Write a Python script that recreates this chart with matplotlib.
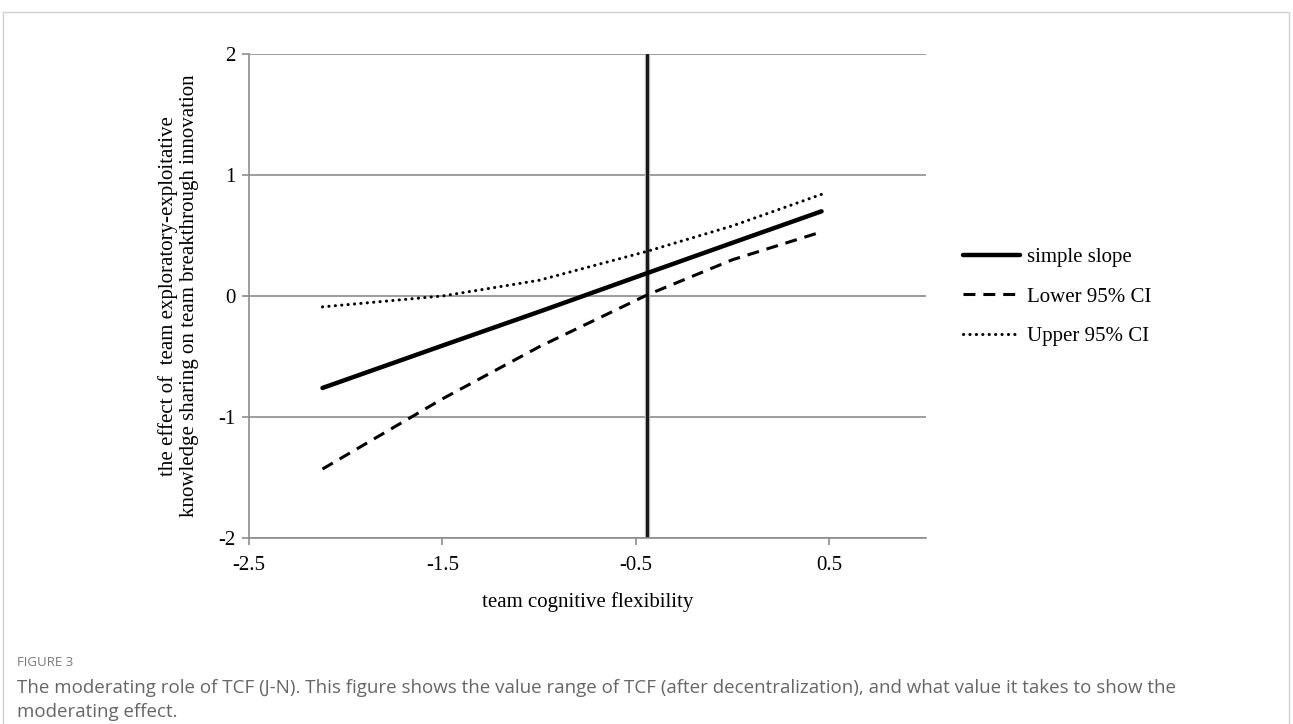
import matplotlib
matplotlib.use("Agg")
import matplotlib.pyplot as plt
from matplotlib.patches import Rectangle

# ---- data ----
x_vals = [-2.12, -1.5, -1.0, -0.44, 0.0, 0.46]
simple_slope = [-0.76, -0.41, -0.13, 0.19, 0.44, 0.70]
lower_ci = [-1.43, -0.85, -0.42, 0.01, 0.30, 0.53]
upper_ci = [-0.09, 0.00, 0.13, 0.37, 0.58, 0.84]
jn_point = -0.44
x_ticks = [-2.5, -1.5, -0.5, 0.5]
x_tick_labels = ["-2.5", "-1.5", "-0.5", "0.5"]
y_ticks = [-2, -1, 0, 1, 2]
y_tick_labels = ["-2", "-1", "0", "1", "2"]
series_labels = ["simple slope", "Lower 95% CI", "Upper 95% CI"]

serif = ["Liberation Serif", "DejaVu Serif"]
sans = ["Open Sans", "DejaVu Sans"]
W, H = 1293, 724
fig = plt.figure(figsize=(W / 100, H / 100), dpi=100)

# outer frame
fig.patches.append(Rectangle((3 / W, -0.01), (1289 - 3) / W, 1 - 12 / H + 0.01,
                             transform=fig.transFigure, fill=False,
                             edgecolor="#d0d0d0", linewidth=1.0))

ax = fig.add_axes([249 / W, 1 - 538 / H, (926 - 249) / W, (538 - 54) / H])
ax.set_xlim(-2.5, 1.0)
ax.set_ylim(-2, 2)

for y in y_ticks:
    ax.axhline(y, color="#8c8c8c", linewidth=1.2, zorder=1)

ax.plot(x_vals, simple_slope, color="black", linewidth=3.2,
        solid_capstyle="round", label=series_labels[0], zorder=3)
ax.plot(x_vals, lower_ci, color="black", linewidth=2.2, dashes=(3.9, 2.6),
        dash_capstyle="butt", label=series_labels[1], zorder=3)
ax.plot(x_vals, upper_ci, color="black", linewidth=2.2, dashes=(0.05, 2.05),
        dash_capstyle="round", label=series_labels[2], zorder=3)

ax.axvline(jn_point, color="#b5b5b5", linewidth=3.8, zorder=2)
ax.axvline(jn_point, color="#1a1a1a", linewidth=2.2, zorder=2)

ax.set_xticks(x_ticks)
ax.set_xticklabels(x_tick_labels, family=serif, fontsize=15)
ax.set_yticks(y_ticks)
ax.set_yticklabels(y_tick_labels, family=serif, fontsize=15)
ax.tick_params(axis="both", direction="out", length=5, width=1.2, color="#8c8c8c")
ax.tick_params(axis="x", pad=8)
ax.tick_params(axis="y", pad=4.5)
for s in ["top", "right"]:
    ax.spines[s].set_visible(False)
for s in ["left", "bottom"]:
    ax.spines[s].set_color("#8c8c8c")
    ax.spines[s].set_linewidth(1.2)

ax.set_xlabel("team cognitive flexibility", family=serif, fontsize=15, labelpad=12)
ax.set_ylabel("the effect of  team exploratory-exploitative\nknowledge sharing on team breakthrough innovation",
              family=serif, fontsize=15, labelpad=14, linespacing=1.15)

leg = fig.legend(loc="center left", bbox_to_anchor=(944 / W, 1 - 297 / H),
                 frameon=False, prop={"family": serif, "size": 15},
                 handlelength=2.75, handletextpad=0.35, labelspacing=0.95)

fig.text(17 / W, 1 - 662 / H, "FIGURE 3", family=sans,
         fontsize=9.5, color="#7a7a7a", va="center")
fig.text(17 / W, 1 - 688 / H,
         "The moderating role of TCF (J-N). This figure shows the value range of TCF (after decentralization), and what value it takes to show the",
         family=sans, fontsize=13.5, color="#666666", va="center")
fig.text(17 / W, 1 - 712 / H, "moderating effect.",
         family=sans, fontsize=13.5, color="#666666", va="center")

fig.savefig("out.png", dpi=100)
